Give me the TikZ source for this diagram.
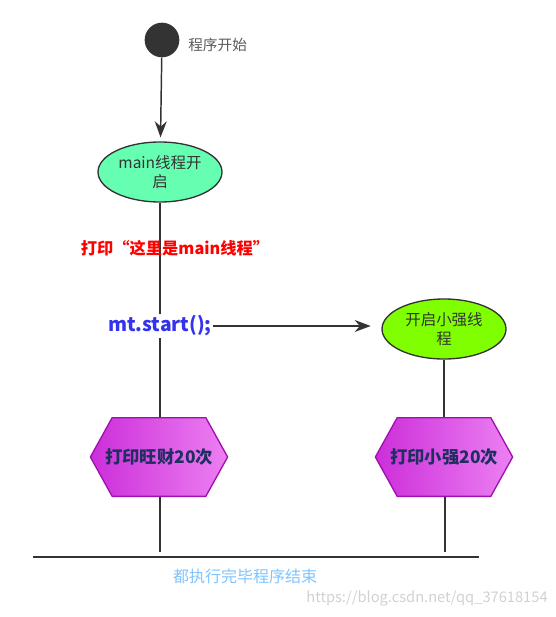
\documentclass[tikz,border=0pt]{standalone}
\usepackage{fontspec}
\setmainfont{Noto Sans CJK SC}
\usetikzlibrary{arrows.meta,positioning,shapes.symbols,shapes.geometric}
\definecolor{lineg}{HTML}{333333}
\definecolor{mintg}{HTML}{66FFB2}
\definecolor{limeg}{HTML}{80FF00}
\definecolor{hexl}{HTML}{CC2ED9}
\definecolor{hexr}{HTML}{EC80F2}
\definecolor{hexb}{HTML}{A010B0}
\definecolor{hextext}{HTML}{1F2F5F}
\definecolor{endblue}{HTML}{7FC4FF}
\definecolor{codeblue}{HTML}{3333EE}

\begin{document}
\begin{tikzpicture}[x=0.75pt, y=-0.75pt, >={Stealth[length=12pt,width=9pt]},
  line/.style={draw=lineg, line width=1.1pt},
  thread/.style={ellipse,draw=lineg,line width=1pt,minimum width=93pt,minimum height=45pt,
    inner sep=0pt,align=center,font=\fontsize{11.6}{14.5}\selectfont,text=lineg},
  task/.style={signal,signal to=west and east,signal pointer angle=122,draw=hexb,line width=1pt,
    left color=hexl,right color=hexr,minimum height=59pt,inner xsep=-5.3pt,inner ysep=0pt,
    font=\bfseries\fontsize{13}{15}\selectfont,text=hextext}]
  \useasboundingbox (0,0) rectangle (556,617);
  \node[circle, fill=lineg, minimum size=26pt, inner sep=0pt] (begin) at (162,40) {};
  \node[right=3pt of begin, yshift=-4pt, font=\fontsize{11}{13}\selectfont, text=black!65] (beginlbl) {程序开始};
  \node[thread, fill=mintg] (mainth) at (160,172) {main线程开\\启};
  \node[thread, fill=limeg] (xqth) at (444,329) {开启小强线\\程};
  \node[task] (wc) at (159,457) {打印旺财20次};
  \node[task] (xq) at (444,457) {打印小强20次};
  \coordinate (wcend) at (160,552);
  \coordinate (xqend) at (445,552);
  \coordinate (barl) at (33,557);
  \coordinate (barr) at (479,557);
  \draw[line, ->, shorten >=3pt] (begin) -- (mainth);
  \draw[line] (mainth) -- (mainth |- wc.north);
  \node[font=\bfseries\fontsize{12.2}{14}\selectfont, text=red] (printmain) at (175,248) {打印“这里是main线程”};
  \node[fill=white, inner sep=1pt, font=\bfseries\fontsize{14.5}{16}\selectfont, text=codeblue] (mt) at (160,326) {mt.start();};
  \draw[line, ->, shorten >=8pt] (mt.east) -- (mt.east -| xqth.west);
  \draw[line] (xqth) -- (xqth.south |- xq.north);
  \draw[line] (wc.south -| wcend) -- (wcend);
  \draw[line] (xq.south -| xqend) -- (xqend);
  \draw[line, line width=1.4pt] (barl) -- (barr);
  \node[font=\fontsize{12}{14}\selectfont, text=endblue] (endlbl) at (245,576) {都执行完毕程序结束};
  \node[font=\fontsize{11}{13}\selectfont, text=black!18] (mark) at (427,598) {https://blog.csdn.net/qq\_37618154};
\end{tikzpicture}
\end{document}
